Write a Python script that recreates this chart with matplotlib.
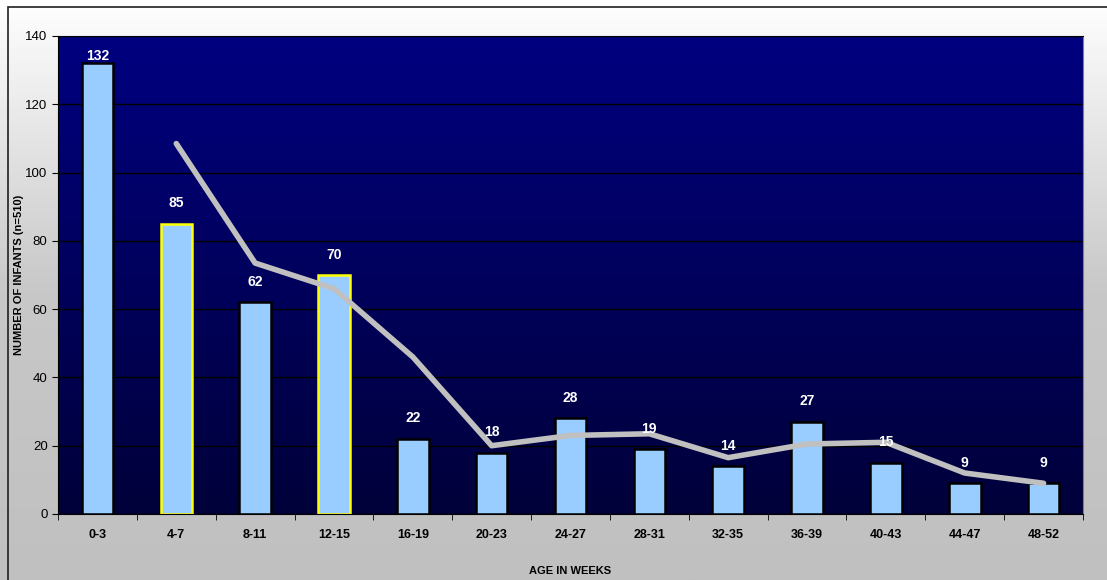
import numpy as np
import matplotlib
matplotlib.use("Agg")
import matplotlib.pyplot as plt
from matplotlib.colors import LinearSegmentedColormap
from matplotlib.patches import Rectangle

plt.rcParams['font.family'] = ['Liberation Sans', 'DejaVu Sans']

# age groups and counts of infants
age_groups = ['0-3', '4-7', '8-11', '12-15', '16-19', '20-23', '24-27',
              '28-31', '32-35', '36-39', '40-43', '44-47', '48-52']
infants = [132, 85, 62, 70, 22, 18, 28, 19, 14, 27, 15, 9, 9]
# two-period moving average, starting at the second group
trend = [108.5, 73.5, 66, 46, 20, 23, 23.5, 16.5, 20.5, 21, 12, 9]
edge_colors = ['black', 'yellow', 'black', 'yellow'] + ['black'] * 9

fig = plt.figure(figsize=(11.07, 5.8), dpi=100)

# figure background: grey at the bottom fading to white at the top
bg = fig.add_axes([0, 0, 1, 1], zorder=-10)
bg_cmap = LinearSegmentedColormap.from_list('bg', ['#c0c0c0', '#c8c8c8', '#ffffff'])
bg.imshow(np.linspace(0, 1, 256).reshape(-1, 1), aspect='auto', cmap=bg_cmap,
          extent=[0, 1, 0, 1], origin='lower')
bg.set_xlim(0, 1)
bg.set_ylim(0, 1)
bg.axis('off')
bg.add_patch(Rectangle((8 / 1107, -0.01), 1.0, (580 - 7) / 580 + 0.01,
                       fill=False, edgecolor='#202020', lw=1.2,
                       transform=bg.transAxes))

ax = fig.add_axes([58 / 1107, 66 / 580, (1083 - 58) / 1107, (514 - 36) / 580])
x = np.arange(len(age_groups))
ax.set_xlim(-0.5, len(age_groups) - 0.5)
ax.set_ylim(0, 140)

# plot area gradient, navy at the top
pa_cmap = LinearSegmentedColormap.from_list('pa', ['#00003a', '#000080'])
ax.imshow(np.linspace(0, 1, 256).reshape(-1, 1), aspect='auto', cmap=pa_cmap,
          extent=[-0.5, len(age_groups) - 0.5, 0, 140], origin='lower', zorder=0)

ax.set_yticks(range(0, 141, 20))
ax.set_axisbelow(True)
ax.grid(axis='y', color='black', lw=1)

bars = ax.bar(x, infants, width=0.4, color='#99ccff', edgecolor=edge_colors,
              linewidth=1.8, zorder=2)
ax.plot(x[1:], trend, color='#c0c0c0', lw=4, solid_capstyle='round', zorder=3)

for xi, v in zip(x, infants):
    ax.text(xi, min(v + 6, 134), str(v), ha='center', va='center', color='white',
            fontsize=10, fontweight='bold', zorder=4)

ax.set_xticks(x)
ax.set_xticklabels(age_groups, fontsize=9, fontweight='bold')
ax.set_xticks(np.arange(-0.5, len(age_groups)), minor=True)
ax.tick_params(axis='x', which='major', length=0, pad=11)
ax.tick_params(axis='x', which='minor', length=4, color='black')
ax.tick_params(axis='y', labelsize=9.5, length=4)
for s in ax.spines.values():
    s.set_color('black')
ax.spines['right'].set_color('#808080')

ax.set_xlabel('AGE IN WEEKS', fontsize=8, fontweight='bold', labelpad=18)
ax.set_ylabel('NUMBER OF INFANTS (n=510)', fontsize=8, fontweight='bold')
ax.yaxis.set_label_coords(-0.033, 0.5)

fig.savefig('out.png', dpi=100)
